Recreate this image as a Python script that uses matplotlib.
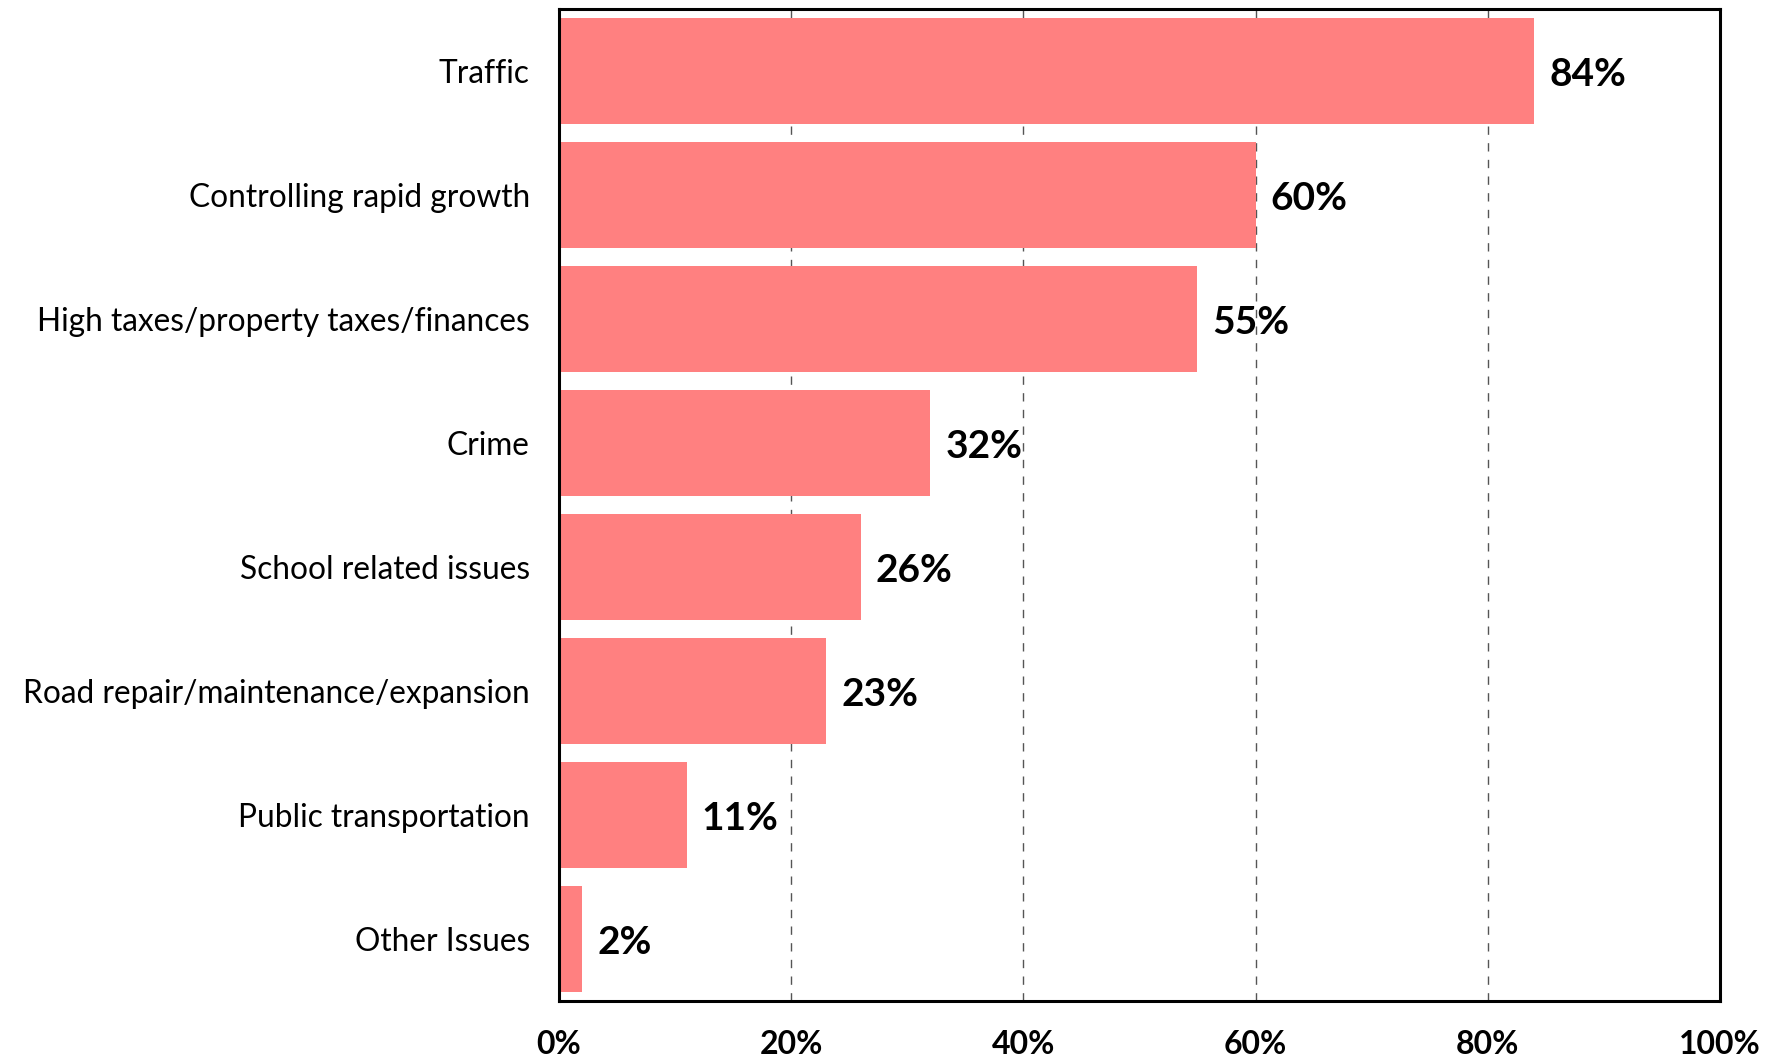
import matplotlib.pyplot as plt
from matplotlib.ticker import FuncFormatter

categories = ['Traffic', 'Controlling rapid growth', 'High taxes/property taxes/finances',
              'Crime', 'School related issues', 'Road repair/maintenance/expansion',
              'Public transportation', 'Other Issues']
values = [84, 60, 55, 32, 26, 23, 11, 2]
xticks = [0, 20, 40, 60, 80, 100]

plt.rcParams['font.family'] = ['Lato', 'DejaVu Sans']

fig = plt.figure(figsize=(17.79, 10.59), dpi=100)
ax = fig.add_axes([0.3142, 0.0548, 0.6526, 0.9367])

pos = list(range(len(categories)))
ax.barh(pos, values, height=0.85, color='#FF8080', zorder=2)
ax.set_ylim(len(categories) - 0.5, -0.5)
ax.set_xlim(0, 100)

ax.set_yticks(pos)
ax.set_yticklabels(categories, fontsize=22.8)
ax.set_xticks(xticks)
ax.xaxis.set_major_formatter(FuncFormatter(lambda v, p: f'{v:.0f}%'))
for t in ax.get_xticklabels():
    t.set_fontweight('bold')
    t.set_fontsize(23)
ax.tick_params(axis='both', length=0)
ax.tick_params(axis='y', pad=21)
ax.tick_params(axis='x', pad=21)

ax.grid(axis='x', linestyle=(0, (6, 6)), color='#555555', linewidth=1, zorder=1)
for s in ax.spines.values():
    s.set_linewidth(2.2)
    s.set_color('black')

# value labels just past each bar end
for y, v in zip(pos, values):
    ax.text(v + 1.3, y + 0.03, f'{v}%', va='center', ha='left', fontsize=28,
            fontweight='bold', zorder=3)

fig.savefig('out.png', dpi=100)
